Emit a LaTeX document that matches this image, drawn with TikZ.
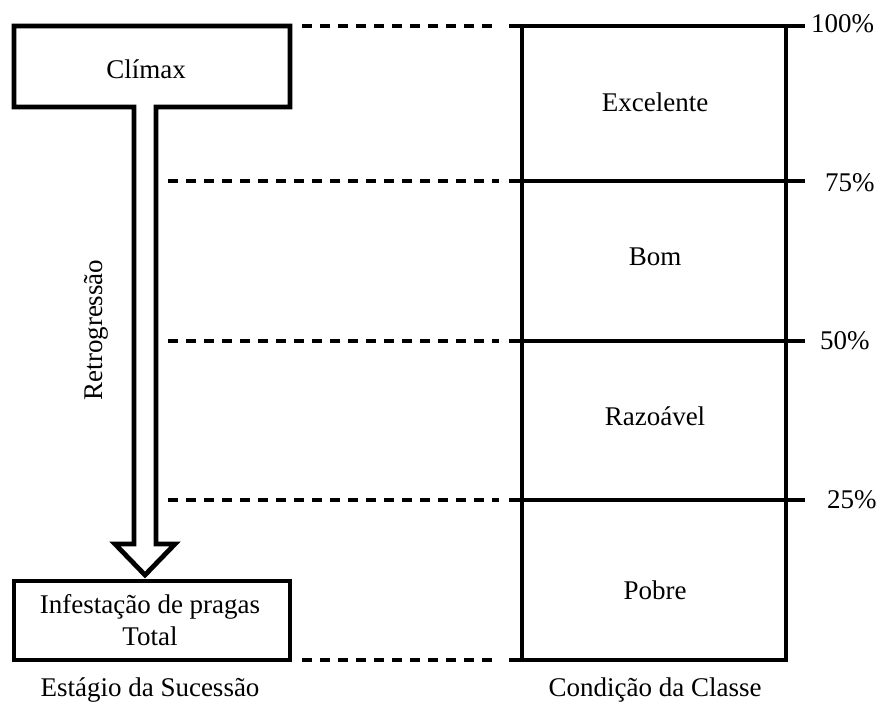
\documentclass[tikz,border=0pt]{standalone}
\usepackage{fontspec}
\setmainfont{Liberation Serif}
\begin{document}
\begin{tikzpicture}[x=1pt,y=-1pt,
  thick line/.style={line width=4.8pt},
  guide/.style={line width=3.5pt, dash pattern=on 10pt off 8pt},
  lbl/.style={font=\fontsize{27}{32}\selectfont, inner sep=0pt},
  pct/.style={font=\fontsize{27}{30}\selectfont, inner sep=0pt, anchor=west}]
\useasboundingbox (0,0) rectangle (884,706);
% climax box with arrow
\draw[thick line, line join=miter, fill=white] (14,26) -- (290,26) -- (290,107) -- (156,107) -- (156,544) -- (175,544) -- (145,575) -- (115,544) -- (134,544) -- (134,107) -- (14,107) -- cycle;
\node[lbl] (climax) at (146,69) {Clímax};
\node[lbl, rotate=90] (retro) at (96,330) {Retrogressão};
% bottom box
\draw[thick line] (14,581) rectangle (290,660);
\node[lbl, align=center] (infest) at (150,620) {Infestação de pragas\\Total};
\node[lbl] (estagio) at (150,690) {Estágio da Sucessão};
% right box
\draw[thick line] (522,26) rectangle (786,660);
\foreach \y/\n in {26/a,181/b,341/c,500/d} {
  \coordinate (L\n) at (509,\y);
  \coordinate (R\n) at (805,\y);
  \draw[thick line] (L\n) -- (R\n);
}
\coordinate (Le) at (509,660);
\draw[thick line] (Le) -- (522,660);
\node[pct] (p100) at (811,24) {100\%};
\node[pct] (p75) at (825,183) {75\%};
\node[pct] (p50) at (820,341) {50\%};
\node[pct] (p25) at (827,500) {25\%};
\node[lbl] (exc) at (655,102) {Excelente};
\node[lbl] (bom) at (655,257) {Bom};
\node[lbl] (raz) at (655,416) {Razoável};
\node[lbl] (pob) at (655,590) {Pobre};
\node[lbl] (cond) at (655,690) {Condição da Classe};
% dashed guides
\coordinate (d1) at (302,26);
\coordinate (d2) at (168,181);
\coordinate (d3) at (168,341);
\coordinate (d4) at (168,500);
\coordinate (d5) at (302,660);
\draw[guide] (d1) -- (499,26);
\draw[guide] (d2) -- (499,181);
\draw[guide] (d3) -- (499,341);
\draw[guide] (d4) -- (499,500);
\draw[guide] (d5) -- (499,660);
\end{tikzpicture}
\end{document}
